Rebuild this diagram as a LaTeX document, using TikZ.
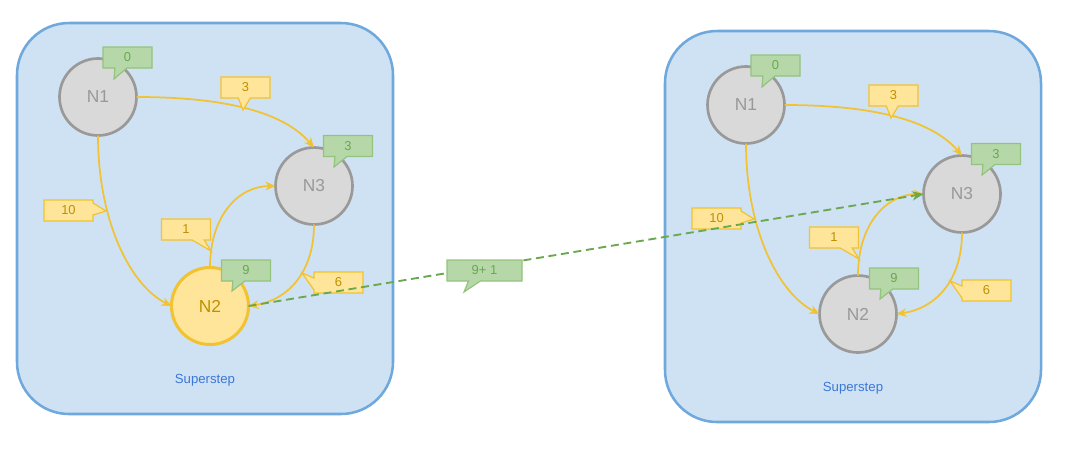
\documentclass[tikz,border=0pt]{standalone}
\usepackage{fontspec}
\setmainfont{Liberation Sans}
\usetikzlibrary{shapes.callouts,arrows.meta}

\definecolor{panelfill}{HTML}{CFE2F3}
\definecolor{paneldraw}{HTML}{6FA8DC}
\definecolor{steptext}{HTML}{3C78D8}
\definecolor{vertexfill}{HTML}{D9D9D9}
\definecolor{vertexdraw}{HTML}{999999}
\definecolor{weightfill}{HTML}{FFE599}
\definecolor{weightdraw}{HTML}{F1C232}
\definecolor{weighttext}{HTML}{BF9000}
\definecolor{valuefill}{HTML}{B6D7A8}
\definecolor{valuedraw}{HTML}{93C47D}
\definecolor{valuetext}{HTML}{6AA84F}

\tikzset{
  panel/.style={draw=paneldraw, fill=panelfill, line width=1.9pt, rounded corners=39pt,
    minimum width=282pt, minimum height=293.25pt},
  steplabel/.style={text=steptext, font=\fontsize{9.9}{11}\selectfont},
  vertex/.style={circle, draw=vertexdraw, fill=vertexfill, text=vertexdraw, line width=2pt,
    minimum size=57.75pt, inner sep=0pt, outer sep=0pt, font=\fontsize{13}{15}\selectfont},
  active/.style={draw=weightdraw, fill=weightfill, text=weighttext, line width=2.3pt},
  calloutbox/.style={rectangle callout, line width=0.9pt, minimum width=36.75pt,
    minimum height=15.75pt, inner sep=0pt, callout pointer width=9pt,
    font=\fontsize{9.7}{11}\selectfont},
  weightbox/.style={calloutbox, draw=weightdraw, fill=weightfill, text=weighttext},
  valuebox/.style={calloutbox, draw=valuedraw, fill=valuefill, text=valuetext},
  link/.style={draw=weightdraw, line width=1.3pt, -{Stealth[length=7.5pt,width=6.5pt]}},
  msgline/.style={draw=valuetext, line width=1.4pt, dash pattern=on 6pt off 3.5pt,
    -{Stealth[length=8.5pt,width=7pt]}}
}

\newcommand{\superstep}[3]{
  \begin{scope}[shift={#1}]
    \node (#2box) [panel] at (205,218.5) {};
    \node (#2label) [steplabel] at (205,380) {Superstep};
    \node (#2n1) [vertex] at (98,97) {N1};
    \node (#2n3) [vertex] at (314,186) {N3};
    \node (#2n2) [vertex,#3] at (210,306) {N2};
    \draw [link] (#2n1.east) .. controls +(90,0) and +(-30,-35) .. (#2n3.north);
    \draw [link] (#2n1.south) .. controls +(0,84) and +(-42,-21) .. (#2n2.west);
    \draw [link] (#2n2.north) .. controls +(0,-53) and +(-36,0) .. (#2n3.west);
    \draw [link] (#2n3.south) .. controls +(0,46) and +(41,-6) .. (#2n2.east);
    \coordinate (#2t3) at (243,110);
    \coordinate (#2t10) at (106,211);
    \coordinate (#2t1) at (211,251);
    \coordinate (#2t6) at (302,273);
    \coordinate (#2s1) at (114,79);
    \coordinate (#2s3) at (334,167);
    \coordinate (#2s2) at (232,291);
    \node (#2w3) [weightbox, callout absolute pointer={(#2t3)}] at (245.5,87.5) {3};
    \node (#2w10) [weightbox, callout absolute pointer={(#2t10)}] at (68.5,210.5) {10};
    \node (#2w1) [weightbox, callout absolute pointer={(#2t1)}] at (186,229.5) {1};
    \node (#2w6) [weightbox, callout absolute pointer={(#2t6)}] at (338.5,282.5) {6};
    \node (#2v1) [valuebox, callout absolute pointer={(#2s1)}] at (127.5,57.5) {0};
    \node (#2v3) [valuebox, callout absolute pointer={(#2s3)}] at (348,146) {3};
    \node (#2v2) [valuebox, callout absolute pointer={(#2s2)}] at (246,270.5) {9};
  \end{scope}
}

\begin{document}
\begin{tikzpicture}[x=0.75pt, y=-0.75pt]
  \useasboundingbox (0,0) rectangle (1080,455);
  \superstep{(0,0)}{l}{active}
  \superstep{(648,8)}{r}{}
  \draw [msgline] (ln2.east) -- (rn3.west);
  \coordinate (msgtip) at (464,292);
  \node (msg) [valuebox, callout absolute pointer={(msgtip)},
    minimum width=56.25pt] at (484.5,270.5) {9+ 1};
\end{tikzpicture}
\end{document}
